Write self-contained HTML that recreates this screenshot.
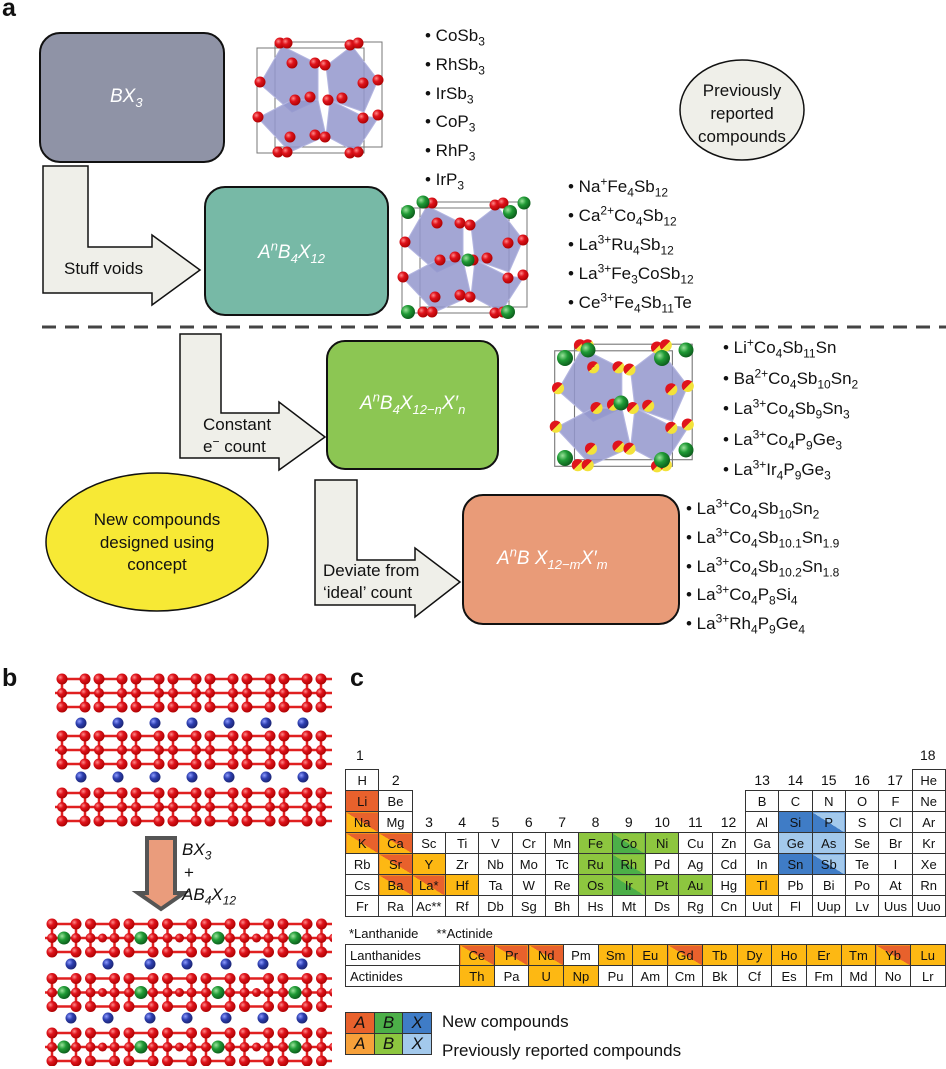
<!DOCTYPE html>
<html><head><meta charset="utf-8"><style>
body{margin:0;width:946px;height:1069px;background:#fff;position:relative;overflow:hidden;font-family:"Liberation Sans",sans-serif;color:#111}
.t{position:absolute;font-size:17px;line-height:20px;white-space:nowrap}
.t sub,.t sup{font-size:12px;line-height:0}
.lbl{position:absolute;font-weight:bold;font-size:25px}
.bx{position:absolute;color:#fff;font-style:italic;font-size:19px;white-space:nowrap}
.bx sub,.bx sup{font-size:13px;line-height:0}
table{border-collapse:collapse;position:absolute;table-layout:fixed}
td{border:1px solid #333;height:20px;padding:0;text-align:center;font-size:13px;overflow:hidden}
td.e{border:none;font-size:14px}
.o{background:#fdb813}.r{background:#e8612c}
.rs{background:linear-gradient(to bottom left,#e8612c 50%,#fdb813 50%)}
.g{background:#8dc63f}.gs{background:linear-gradient(to bottom left,#8dc63f 50%,#4caf48 50%)}
.gd{background:#4caf48}
.b{background:#3f7cc6}.bl{background:#a3c9ec}.bs{background:linear-gradient(to bottom left,#a3c9ec 50%,#3f7cc6 50%)}
</style></head><body>
<svg width="946" height="1069" style="position:absolute;left:0;top:0">
<defs>
<radialGradient id="rg" cx="0.35" cy="0.35" r="0.7"><stop offset="0" stop-color="#ff8a8a"/><stop offset="0.4" stop-color="#e0141c"/><stop offset="1" stop-color="#a00"/></radialGradient>
<linearGradient id="gy" x1="0" y1="0" x2="1" y2="1"><stop offset="0.5" stop-color="#e0141c"/><stop offset="0.5" stop-color="#f3e23a"/></linearGradient>
<radialGradient id="gg" cx="0.35" cy="0.35" r="0.7"><stop offset="0" stop-color="#9be39b"/><stop offset="0.45" stop-color="#1f9a35"/><stop offset="1" stop-color="#0b5a1a"/></radialGradient>
<radialGradient id="bg" cx="0.35" cy="0.35" r="0.7"><stop offset="0" stop-color="#8f9cff"/><stop offset="0.45" stop-color="#2d3fb0"/><stop offset="1" stop-color="#1a2370"/></radialGradient>
<g id="cr">
<rect x="257" y="48" width="107" height="105" fill="none" stroke="#777" stroke-width="1"/>
<rect x="275" y="42" width="107" height="105" fill="none" stroke="#777" stroke-width="1"/>
<g fill="#9396cc" fill-opacity="0.85" stroke="#b3b5e0" stroke-width="1">
<polygon points="282,46 318,64 318,100 292,112 260,84"/>
<polygon points="352,46 378,80 364,112 330,100 326,66"/>
<polygon points="292,100 318,100 326,136 290,152 258,118"/>
<polygon points="330,100 362,116 378,118 356,152 326,136"/>
</g>
<g style="fill:var(--s,#d21)">
<circle cx="280" cy="43" r="5.5"/><circle cx="287" cy="43" r="5.5"/><circle cx="350" cy="45" r="5.5"/><circle cx="358" cy="43" r="5.5"/>
<circle cx="292" cy="63" r="5.5"/><circle cx="315" cy="63" r="5.5"/><circle cx="325" cy="65" r="5.5"/><circle cx="260" cy="82" r="5.5"/>
<circle cx="363" cy="83" r="5.5"/><circle cx="378" cy="80" r="5.5"/><circle cx="295" cy="100" r="5.5"/><circle cx="310" cy="97" r="5.5"/>
<circle cx="328" cy="100" r="5.5"/><circle cx="342" cy="98" r="5.5"/><circle cx="258" cy="117" r="5.5"/><circle cx="363" cy="118" r="5.5"/>
<circle cx="378" cy="115" r="5.5"/><circle cx="290" cy="137" r="5.5"/><circle cx="315" cy="135" r="5.5"/><circle cx="325" cy="137" r="5.5"/>
<circle cx="278" cy="152" r="5.5"/><circle cx="287" cy="152" r="5.5"/><circle cx="350" cy="153" r="5.5"/><circle cx="358" cy="152" r="5.5"/>
</g>
</g>
<pattern id="pt" patternUnits="userSpaceOnUse" x="55" y="666" width="37" height="57">
<g stroke="#e02020" stroke-width="2.5" fill="none"><rect x="7" y="13" width="23" height="28"/><line x1="0" y1="27" x2="37" y2="27"/></g>
<g fill="url(#rg)"><circle cx="7" cy="13" r="5.5"/><circle cx="30" cy="13" r="5.5"/><circle cx="7" cy="41" r="5.5"/><circle cx="30" cy="41" r="5.5"/><circle cx="7" cy="27" r="5"/><circle cx="30" cy="27" r="5"/></g>
</pattern>
<pattern id="pb" patternUnits="userSpaceOnUse" x="45" y="911" width="77" height="54.5">
<g stroke="#e02020" stroke-width="2.5" fill="none"><rect x="7" y="13" width="24" height="28"/><rect x="45.5" y="13" width="24" height="28"/><line x1="0" y1="27" x2="77" y2="27"/></g>
<g fill="url(#rg)"><circle cx="7" cy="13" r="5.5"/><circle cx="31" cy="13" r="5.5"/><circle cx="7" cy="41" r="5.5"/><circle cx="31" cy="41" r="5.5"/><circle cx="45.5" cy="13" r="5.5"/><circle cx="69.5" cy="13" r="5.5"/><circle cx="45.5" cy="41" r="5.5"/><circle cx="69.5" cy="41" r="5.5"/><circle cx="7" cy="27" r="5"/><circle cx="31" cy="27" r="5"/><circle cx="45.5" cy="27" r="5"/><circle cx="69.5" cy="27" r="5"/><circle cx="57.5" cy="27" r="4.5"/></g>
<circle cx="19" cy="27" r="6.5" fill="url(#gg)"/>
</pattern>
</defs>
<rect x="40" y="33" width="184" height="129" rx="20" fill="#8f93a6" stroke="#111" stroke-width="2"/>
<rect x="205" y="187" width="183" height="128" rx="20" fill="#77b9a6" stroke="#111" stroke-width="2"/>
<rect x="327" y="341" width="171" height="128" rx="18" fill="#8cc653" stroke="#111" stroke-width="2"/>
<rect x="463" y="495" width="216" height="129" rx="20" fill="#e99b78" stroke="#111" stroke-width="2"/>
<path d="M43,166 L88,166 L88,247 L152,247 L152,235 L200,270 L152,305 L152,293 L43,293 Z" fill="#efefe9" stroke="#111" stroke-width="1.5"/>
<path d="M180,334 L221,334 L221,413 L279,413 L279,402 L325,437 L279,470 L279,458 L180,458 Z" fill="#efefe9" stroke="#111" stroke-width="1.5"/>
<path d="M315,480 L357,480 L357,560 L415,560 L415,548 L460,582 L415,617 L415,605 L315,605 Z" fill="#efefe9" stroke="#111" stroke-width="1.5"/>
<ellipse cx="742" cy="110" rx="62" ry="50" fill="#efefe9" stroke="#111" stroke-width="1.5"/>
<ellipse cx="157" cy="542" rx="111" ry="69" fill="#f7e935" stroke="#111" stroke-width="1.5"/>
<line x1="42" y1="327" x2="946" y2="327" stroke="#444" stroke-width="3" stroke-dasharray="14,9"/>
<use href="#cr" style="--s:url(#rg)"/>
<g transform="translate(145,160)"><use href="#cr" style="--s:url(#rg)"/></g>
<g fill="url(#gg)"><circle cx="408" cy="212" r="7"/><circle cx="423" cy="202" r="6.5"/><circle cx="408" cy="312" r="7"/><circle cx="510" cy="212" r="7"/><circle cx="524" cy="203" r="6.5"/><circle cx="508" cy="312" r="7"/><circle cx="468" cy="260" r="6.5"/></g>
<g transform="translate(272,298) scale(1.1)"><use href="#cr" style="--s:url(#gy)"/></g>
<g fill="url(#gg)"><circle cx="565" cy="358" r="8"/><circle cx="588" cy="350" r="7.5"/><circle cx="662" cy="358" r="8"/><circle cx="686" cy="350" r="7.5"/><circle cx="565" cy="458" r="8"/><circle cx="662" cy="460" r="8"/><circle cx="686" cy="450" r="7.5"/><circle cx="621" cy="403" r="7.5"/></g>
<rect x="55" y="672" width="277" height="156" fill="url(#pt)"/>
<g fill="url(#bg)">
<circle cx="81" cy="723" r="5.5"/><circle cx="118" cy="723" r="5.5"/><circle cx="155" cy="723" r="5.5"/><circle cx="192" cy="723" r="5.5"/><circle cx="229" cy="723" r="5.5"/><circle cx="266" cy="723" r="5.5"/><circle cx="303" cy="723" r="5.5"/>
<circle cx="81" cy="777" r="5.5"/><circle cx="118" cy="777" r="5.5"/><circle cx="155" cy="777" r="5.5"/><circle cx="192" cy="777" r="5.5"/><circle cx="229" cy="777" r="5.5"/><circle cx="266" cy="777" r="5.5"/><circle cx="303" cy="777" r="5.5"/>
</g>
<rect x="45" y="916" width="287" height="150" fill="url(#pb)"/>
<g fill="url(#bg)">
<circle cx="71" cy="964" r="5.5"/><circle cx="108" cy="964" r="5.5"/><circle cx="150" cy="964" r="5.5"/><circle cx="187" cy="964" r="5.5"/><circle cx="226" cy="964" r="5.5"/><circle cx="263" cy="964" r="5.5"/><circle cx="302" cy="964" r="5.5"/>
<circle cx="71" cy="1018" r="5.5"/><circle cx="108" cy="1018" r="5.5"/><circle cx="150" cy="1018" r="5.5"/><circle cx="187" cy="1018" r="5.5"/><circle cx="226" cy="1018" r="5.5"/><circle cx="263" cy="1018" r="5.5"/><circle cx="302" cy="1018" r="5.5"/>
</g>
<path d="M147,838 L175,838 L175,893 L184,893 L161,909 L138,893 L147,893 Z" fill="#ea9c7c" stroke="#555" stroke-width="4"/>
</svg>

<div class="lbl" style="left:2px;top:-6px">a</div>
<div class="lbl" style="left:2px;top:664px">b</div>
<div class="lbl" style="left:350px;top:664px">c</div>

<div class="bx" style="left:110px;top:86px">BX<sub>3</sub></div>
<div class="bx" style="left:258px;top:242px">A<sup>n</sup>B<sub>4</sub>X<sub>12</sub></div>
<div class="bx" style="left:360px;top:393px">A<sup>n</sup>B<sub>4</sub>X<sub>12−n</sub>X′<sub>n</sub></div>
<div class="bx" style="left:497px;top:548px">A<sup>n</sup>B X<sub>12−m</sub>X′<sub>m</sub></div>

<div class="t" style="left:64px;top:259px">Stuff voids</div>
<div class="t" style="left:203px;top:415px">Constant</div>
<div class="t" style="left:203px;top:437px">e<sup>−</sup> count</div>
<div class="t" style="left:323px;top:561px">Deviate from</div>
<div class="t" style="left:323px;top:583px">‘ideal’ count</div>
<div class="t" style="left:680px;top:79px;text-align:center;width:124px;line-height:23px;white-space:normal">Previously reported compounds</div>
<div class="t" style="left:82px;top:509px;text-align:center;width:150px;line-height:22.5px;white-space:normal">New compounds designed using concept</div>

<div class="t" style="left:425px;top:22px;line-height:28.8px">• CoSb<sub>3</sub><br>• RhSb<sub>3</sub><br>• IrSb<sub>3</sub><br>• CoP<sub>3</sub><br>• RhP<sub>3</sub><br>• IrP<sub>3</sub></div>
<div class="t" style="left:568px;top:172px;line-height:29px">• Na<sup>+</sup>Fe<sub>4</sub>Sb<sub>12</sub><br>• Ca<sup>2+</sup>Co<sub>4</sub>Sb<sub>12</sub><br>• La<sup>3+</sup>Ru<sub>4</sub>Sb<sub>12</sub><br>• La<sup>3+</sup>Fe<sub>3</sub>CoSb<sub>12</sub><br>• Ce<sup>3+</sup>Fe<sub>4</sub>Sb<sub>11</sub>Te</div>
<div class="t" style="left:723px;top:333px;line-height:30.5px">• Li<sup>+</sup>Co<sub>4</sub>Sb<sub>11</sub>Sn<br>• Ba<sup>2+</sup>Co<sub>4</sub>Sb<sub>10</sub>Sn<sub>2</sub><br>• La<sup>3+</sup>Co<sub>4</sub>Sb<sub>9</sub>Sn<sub>3</sub><br>• La<sup>3+</sup>Co<sub>4</sub>P<sub>9</sub>Ge<sub>3</sub><br>• La<sup>3+</sup>Ir<sub>4</sub>P<sub>9</sub>Ge<sub>3</sub></div>
<div class="t" style="left:686px;top:495px;line-height:28.8px">• La<sup>3+</sup>Co<sub>4</sub>Sb<sub>10</sub>Sn<sub>2</sub><br>• La<sup>3+</sup>Co<sub>4</sub>Sb<sub>10.1</sub>Sn<sub>1.9</sub><br>• La<sup>3+</sup>Co<sub>4</sub>Sb<sub>10.2</sub>Sn<sub>1.8</sub><br>• La<sup>3+</sup>Co<sub>4</sub>P<sub>8</sub>Si<sub>4</sub><br>• La<sup>3+</sup>Rh<sub>4</sub>P<sub>9</sub>Ge<sub>4</sub></div>

<div class="t" style="left:182px;top:840px;font-style:italic">BX<sub>3</sub></div>
<div class="t" style="left:184px;top:863px">+</div>
<div class="t" style="left:182px;top:885px;font-style:italic">AB<sub>4</sub>X<sub>12</sub></div>

<div class="t" style="left:356px;top:745px;font-size:14px">1</div>
<div class="t" style="left:920px;top:745px;font-size:14px">18</div>
<table style="left:345px;top:769px;width:600px">
<colgroup><col span="18" style="width:33.33px"></colgroup>
<tr><td>H</td><td class="e">2</td><td class="e"></td><td class="e"></td><td class="e"></td><td class="e"></td><td class="e"></td><td class="e"></td><td class="e"></td><td class="e"></td><td class="e"></td><td class="e"></td><td class="e">13</td><td class="e">14</td><td class="e">15</td><td class="e">16</td><td class="e">17</td><td>He</td></tr>
<tr><td class="r">Li</td><td>Be</td><td class="e"></td><td class="e"></td><td class="e"></td><td class="e"></td><td class="e"></td><td class="e"></td><td class="e"></td><td class="e"></td><td class="e"></td><td class="e"></td><td>B</td><td>C</td><td>N</td><td>O</td><td>F</td><td>Ne</td></tr>
<tr><td class="rs">Na</td><td>Mg</td><td class="e">3</td><td class="e">4</td><td class="e">5</td><td class="e">6</td><td class="e">7</td><td class="e">8</td><td class="e">9</td><td class="e">10</td><td class="e">11</td><td class="e">12</td><td>Al</td><td class="b">Si</td><td class="bs">P</td><td>S</td><td>Cl</td><td>Ar</td></tr>
<tr><td class="rs">K</td><td class="rs">Ca</td><td>Sc</td><td>Ti</td><td>V</td><td>Cr</td><td>Mn</td><td class="g">Fe</td><td class="gs">Co</td><td class="g">Ni</td><td>Cu</td><td>Zn</td><td>Ga</td><td class="bl">Ge</td><td class="bl">As</td><td>Se</td><td>Br</td><td>Kr</td></tr>
<tr><td>Rb</td><td class="rs">Sr</td><td class="o">Y</td><td>Zr</td><td>Nb</td><td>Mo</td><td>Tc</td><td class="g">Ru</td><td class="gs">Rh</td><td>Pd</td><td>Ag</td><td>Cd</td><td>In</td><td class="b">Sn</td><td class="bs">Sb</td><td>Te</td><td>I</td><td>Xe</td></tr>
<tr><td>Cs</td><td class="rs">Ba</td><td class="rs">La*</td><td class="o">Hf</td><td>Ta</td><td>W</td><td>Re</td><td class="g">Os</td><td class="gs">Ir</td><td class="g">Pt</td><td class="g">Au</td><td>Hg</td><td class="o">Tl</td><td>Pb</td><td>Bi</td><td>Po</td><td>At</td><td>Rn</td></tr>
<tr><td>Fr</td><td>Ra</td><td>Ac**</td><td>Rf</td><td>Db</td><td>Sg</td><td>Bh</td><td>Hs</td><td>Mt</td><td>Ds</td><td>Rg</td><td>Cn</td><td>Uut</td><td>Fl</td><td>Uup</td><td>Lv</td><td>Uus</td><td>Uuo</td></tr>
</table>
<div class="t" style="left:349px;top:924px;font-size:13px">*Lanthanide&nbsp;&nbsp;&nbsp;&nbsp;&nbsp;**Actinide</div>
<table style="left:345px;top:944px;width:600px">
<colgroup><col style="width:114px"><col span="14" style="width:34.7px"></colgroup>
<tr><td style="text-align:left;padding-left:4px">Lanthanides</td><td class="rs">Ce</td><td class="rs">Pr</td><td class="rs">Nd</td><td>Pm</td><td class="o">Sm</td><td class="o">Eu</td><td class="rs">Gd</td><td class="o">Tb</td><td class="o">Dy</td><td class="o">Ho</td><td class="o">Er</td><td class="o">Tm</td><td class="rs">Yb</td><td class="o">Lu</td></tr>
<tr><td style="text-align:left;padding-left:4px">Actinides</td><td class="o">Th</td><td>Pa</td><td class="o">U</td><td class="o">Np</td><td>Pu</td><td>Am</td><td>Cm</td><td>Bk</td><td>Cf</td><td>Es</td><td>Fm</td><td>Md</td><td>No</td><td>Lr</td></tr>
</table>
<table style="left:345px;top:1012px;width:87px">
<tr><td class="r" style="height:18px;font-style:italic;font-size:17px">A</td><td class="gd" style="font-style:italic;font-size:17px">B</td><td class="b" style="font-style:italic;font-size:17px">X</td></tr>
<tr><td class="o" style="height:18px;font-style:italic;font-size:17px;background:#f7a13a">A</td><td class="g" style="font-style:italic;font-size:17px">B</td><td class="bl" style="font-style:italic;font-size:17px">X</td></tr>
</table>
<div class="t" style="left:442px;top:1012px">New compounds</div>
<div class="t" style="left:442px;top:1041px">Previously reported compounds</div>
</body></html>
